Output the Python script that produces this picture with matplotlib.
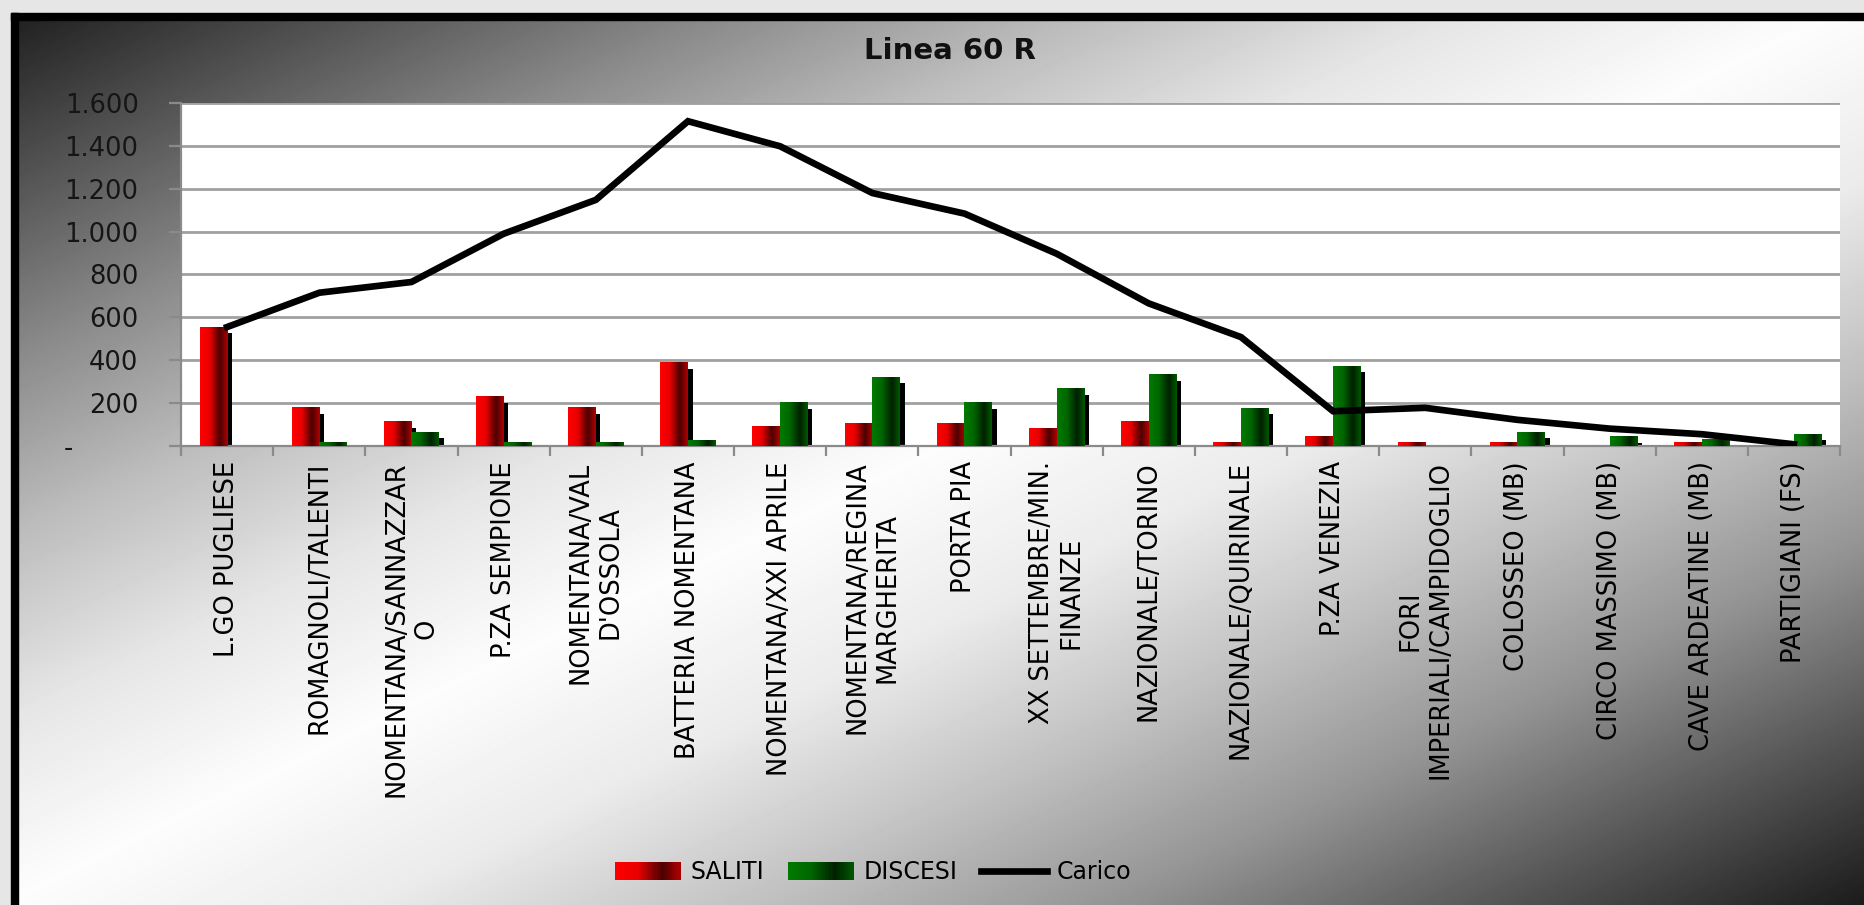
import numpy as np
import matplotlib
matplotlib.use("Agg")
import matplotlib.pyplot as plt
from matplotlib.colors import LinearSegmentedColormap
from matplotlib.patches import Patch, Rectangle
from matplotlib.lines import Line2D
from matplotlib.legend_handler import HandlerBase
from matplotlib.ticker import FuncFormatter

# dati
fermate = ["L.GO PUGLIESE", "ROMAGNOLI/TALENTI", "NOMENTANA/SANNAZZAR\nO",
           "P.ZA SEMPIONE", "NOMENTANA/VAL\nD'OSSOLA", "BATTERIA NOMENTANA",
           "NOMENTANA/XXI APRILE", "NOMENTANA/REGINA\nMARGHERITA", "PORTA PIA",
           "XX SETTEMBRE/MIN.\nFINANZE", "NAZIONALE/TORINO", "NAZIONALE/QUIRINALE",
           "P.ZA VENEZIA", "FORI\nIMPERIALI/CAMPIDOGLIO", "COLOSSEO (MB)",
           "CIRCO MASSIMO (MB)", "CAVE ARDEATINE (MB)", "PARTIGIANI (FS)"]
saliti = [553, 179, 112, 229, 179, 388, 93, 106, 106, 81, 113, 17, 42, 15, 15, 0, 15, 0]
discesi = [0, 15, 65, 15, 15, 26, 202, 320, 202, 267, 333, 176, 372, 0, 65, 42, 30, 54]
carico = [555, 715, 765, 990, 1148, 1515, 1398, 1180, 1084, 897, 665, 508, 162, 178, 122, 81, 55, 8]

W, H = 1865, 905
fig = plt.figure(figsize=(W / 100, H / 100), dpi=100)

# sfondo sfumato (scuro negli angoli in alto a sx e in basso a dx)
bg = fig.add_axes([0, 0, 1, 1], zorder=0)
bg.set_axis_off()
X, Y = np.meshgrid(np.linspace(0, 1, 466), np.linspace(0, 1, 226))
s = (X + Y) / 2
b = np.interp(s, [0, .1, .2, .3, .4, .5, .6, .7, .8, .9, 1],
              [.10, .32, .54, .74, .9, .99, .92, .76, .58, .34, .11])
bg.imshow(b, cmap="gray", vmin=0, vmax=1, extent=(0, W, H, 0), aspect="auto",
          interpolation="bilinear")
bg.add_patch(Rectangle((0, 0), 11, H, color="#e6e6e6"))
bg.add_patch(Rectangle((0, 0), W, 13, color="#e6e6e6"))
bg.add_patch(Rectangle((11, 13), 7, H, color="black"))
bg.add_patch(Rectangle((11, 13), W, 7, color="black"))
bg.set_xlim(0, W)
bg.set_ylim(H, 0)

fig.text(950 / W, 1 - 51 / H, "Linea 60 R", ha="center", va="center",
         fontsize=21, fontweight="bold", color="#111111")

ax = fig.add_axes([0.0971, 0.5072, 0.8895, 0.3790], zorder=1)
ax.set_facecolor("white")

red_cmap = LinearSegmentedColormap.from_list(
    "rosso", [(0, "#ff0000"), (0.35, "#e80000"), (0.72, "#4a0000"), (1, "#b00000")])
green_cmap = LinearSegmentedColormap.from_list(
    "verde", [(0, "#007a00"), (0.35, "#006600"), (0.72, "#002000"), (1, "#005a00")])
grad = np.linspace(0, 1, 64).reshape(1, -1)

x = np.arange(len(fermate))
bw = 0.30
off = 0.05

# ombre nere delle barre
ax.bar(x - bw / 2 + off, np.maximum(np.array(saliti) - 28, 0), bw, color="black", zorder=2)
ax.bar(x + bw / 2 + off, np.maximum(np.array(discesi) - 28, 0), bw, color="black", zorder=2)

rs = ax.bar(x - bw / 2, saliti, bw, color="#c00000", zorder=3)
gs = ax.bar(x + bw / 2, discesi, bw, color="#005000", zorder=3)
for bars, cm in [(rs, red_cmap), (gs, green_cmap)]:
    for p in bars:
        if p.get_height() > 0:
            ax.imshow(grad, extent=(p.get_x(), p.get_x() + p.get_width(), 0, p.get_height()),
                      cmap=cm, aspect="auto", interpolation="bilinear", zorder=3.1)

ax.plot(x, carico, color="black", lw=4.8, zorder=5, solid_joinstyle="miter")

ax.set_xlim(-0.5, len(fermate) - 0.5)
ax.set_ylim(0, 1600)

# assi e griglia
for sp in ["top", "right"]:
    ax.spines[sp].set_visible(False)
for sp in ["left", "bottom"]:
    ax.spines[sp].set_color("#8a8a8a")
    ax.spines[sp].set_linewidth(1.6)
ax.yaxis.grid(True, color="#a0a0a0", lw=2)
ax.set_axisbelow(True)

ax.set_yticks(range(0, 1601, 200))
ax.yaxis.set_major_formatter(FuncFormatter(
    lambda v, p: "-        " if v == 0 else "{:,}".format(int(v)).replace(",", ".")))
ax.tick_params(axis="y", length=8.6, width=1.6, color="#8a8a8a", pad=22,
               labelsize=18.5, labelcolor="#151515")

ax.set_xticks(np.arange(-0.5, len(fermate), 1))
ax.set_xticklabels([])
ax.tick_params(axis="x", which="major", length=7, width=1.6, color="#8a8a8a")
ax.set_xticks(x, minor=True)
ax.set_xticklabels(fermate, minor=True, rotation=90, fontsize=18.5)
ax.tick_params(axis="x", which="minor", length=0, pad=11)
for t in ax.get_xticklabels(minor=True):
    t.set_multialignment("center")


class GradHandler(HandlerBase):
    def __init__(self, cmap):
        super().__init__()
        self.cmap = cmap

    def create_artists(self, legend, orig_handle, xdescent, ydescent, width, height,
                       fontsize, trans):
        n = 30
        arts = []
        for i in range(n):
            arts.append(Rectangle((-xdescent + width * i / n, -ydescent),
                                  width / n * (1.6 if i < n - 1 else 1.0), height,
                                  facecolor=self.cmap((i + 0.5) / n), edgecolor="none",
                                  antialiased=False, transform=trans))
        return arts


h_sal = Patch(facecolor="#c00000")
h_dis = Patch(facecolor="#005000")
h_car = Line2D([], [], color="black", lw=4.8)
fig.legend([h_sal, h_dis, h_car], ["SALITI", "DISCESI", "Carico"],
           handler_map={h_sal: GradHandler(red_cmap), h_dis: GradHandler(green_cmap)},
           loc="center", bbox_to_anchor=(0.468, 0.036), ncol=3, frameon=False,
           fontsize=17, handlelength=2.8, handleheight=0.8, handletextpad=0.4,
           columnspacing=1.0)

fig.savefig("out.png", dpi=100)
